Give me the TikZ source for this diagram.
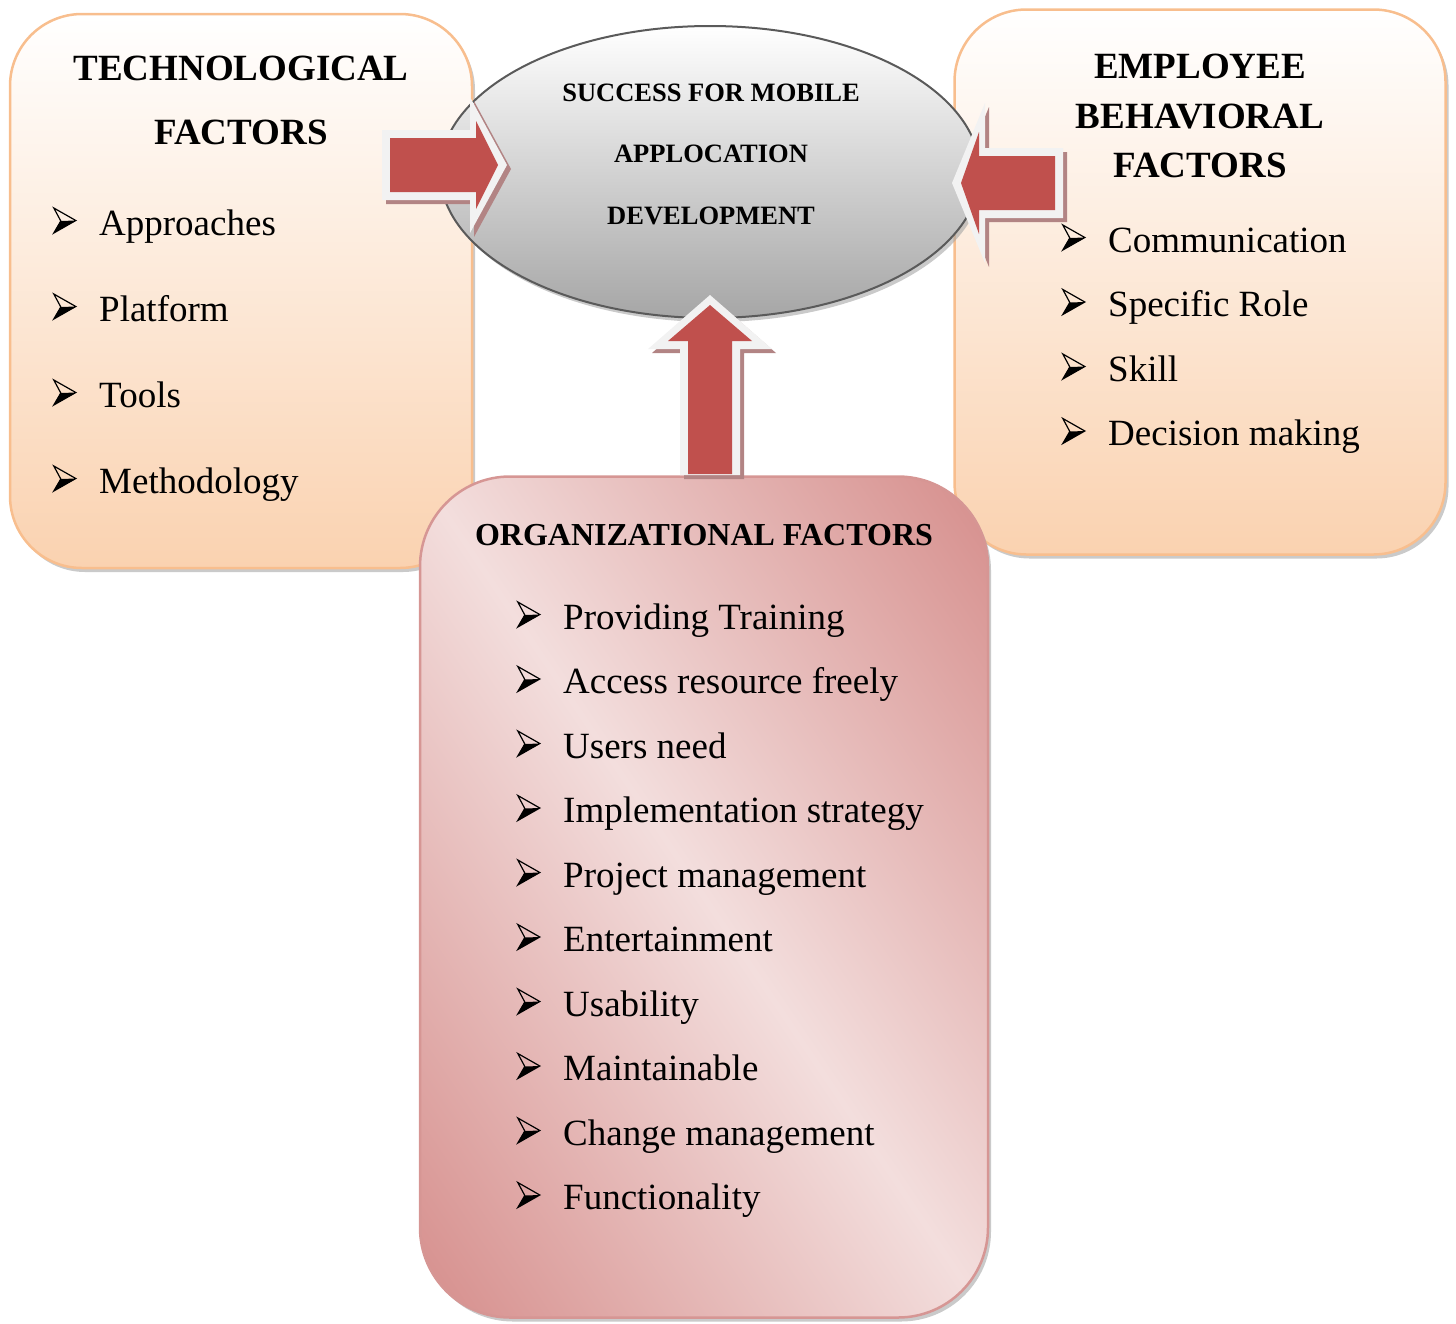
\documentclass[tikz,border=0pt]{standalone}
\usepackage{fontspec}
\setmainfont{Liberation Serif}
\usetikzlibrary{shapes.geometric,shadows}

\definecolor{peach}{RGB}{250,210,176}
\definecolor{peachline}{RGB}{248,190,142}
\definecolor{orglight}{RGB}{243,222,221}
\definecolor{orgdark}{RGB}{216,148,146}
\definecolor{orgline}{RGB}{214,150,148}
\definecolor{arrowred}{RGB}{192,80,77}
\definecolor{arrowrim}{RGB}{242,242,242}
\definecolor{arrowshade}{RGB}{178,132,132}
\definecolor{ovalline}{RGB}{90,90,90}

% diagonal band for the organizational box
\pgfdeclarehorizontalshading{orgband}{100bp}{color(0bp)=(orgdark); color(18bp)=(orgdark); color(50bp)=(orglight); color(82bp)=(orgdark); color(100bp)=(orgdark)}

% 3d arrowhead bullet
\newcommand{\itembullet}{\makebox[46pt][l]{\tikz[baseline=0pt, line join=miter]{
  \fill (7pt,14pt) -- (22pt,14.5pt) -- (0pt,2pt) -- cycle;
  \draw[line width=1.2pt] (0pt,27pt) -- (22pt,14.5pt) -- (0pt,2pt) -- (7pt,14pt) -- cycle;}}}

% block arrow: shadow, light rim, red body
\newcommand{\blockarrow}[2]{%
  \fill[arrowshade, shift={(4pt,-4pt)}] #1 -- cycle;
  \fill[arrowrim] #1 -- cycle;
  \fill[arrowred] #2 -- cycle;}

\tikzset{
  factorbox/.style={rectangle, rounded corners=72pt, draw=peachline, line width=2.5pt,
    top color=white, bottom color=peach,
    drop shadow={shadow xshift=3pt, shadow yshift=-4pt, fill=black!35, opacity=.6}},
  orgbox/.style={rectangle, rounded corners=90pt, draw=orgline, line width=2.5pt,
    shading=orgband, shading angle=34,
    drop shadow={shadow xshift=3pt, shadow yshift=-4pt, fill=black!35, opacity=.6}},
  goaloval/.style={ellipse, draw=ovalline, line width=2pt, top color=white, bottom color=gray!70,
    drop shadow={shadow xshift=3pt, shadow yshift=-4pt, fill=black!35, opacity=.6}},
  boxtitle/.style={anchor=base, inner sep=0pt, font=\bfseries\fontsize{37}{44}\selectfont},
  goalline/.style={anchor=base, inner sep=0pt, font=\bfseries\fontsize{26.5}{32}\selectfont},
  listitem/.style={anchor=base west, inner sep=0pt, font=\fontsize{37}{44}\selectfont},
}

\begin{document}
\begin{tikzpicture}[x=1pt,y=-1pt]
\useasboundingbox (0,0) rectangle (1456,1323);

% upper boxes
\node[factorbox, minimum width=462pt, minimum height=554pt] (techbox) at (241,291) {};
\node[factorbox, minimum width=491pt, minimum height=545pt] (empbox) at (1200,282) {};

% goal in the middle
\node[goaloval, minimum width=540pt, minimum height=292pt] (goal) at (710,172) {};
\foreach \txt/\y [count=\i] in {SUCCESS FOR MOBILE/101,APPLOCATION/162,DEVELOPMENT/224}
  \node[goalline] (goal\i) at (711,\y) {\txt};

% side arrows
\blockarrow{(382,130) -- (470,130) -- (470,97) -- (507,165) -- (470,233) -- (470,200) -- (382,200)}
           {(390,138) -- (476,138) -- (476,121) -- (498,165) -- (476,209) -- (476,192) -- (390,192)}
\blockarrow{(1063,148) -- (985,148) -- (985,103) -- (952,183) -- (985,263) -- (985,218) -- (1063,218)}
           {(1055,156) -- (979,156) -- (979,132) -- (961,183) -- (979,234) -- (979,210) -- (1055,210)}

% technological factors
\node[boxtitle] (tech0) at (241,80) {TECHNOLOGICAL};
\node[boxtitle] (tech00) at (241,144) {FACTORS};
\foreach \txt [count=\i] in {Approaches,Platform,Tools,Methodology}
  \node[listitem] (tech\i) at (53,149+86*\i) {\itembullet\txt};

% employee behavioral factors
\foreach \txt/\y [count=\i] in {EMPLOYEE/78,BEHAVIORAL/128,FACTORS/177}
  \node[boxtitle] (empt\i) at (1200,\y) {\txt};
\foreach \txt [count=\i] in {Communication,Specific Role,Skill,Decision making}
  \node[listitem] (emp\i) at (1062,187.5+64.5*\i) {\itembullet\txt};

% organizational factors
\node[orgbox, minimum width=568pt, minimum height=841pt] (orgbox) at (704,897) {};
\node[boxtitle, font=\bfseries\fontsize{32}{38}\selectfont] (orgtitle) at (704,545) {ORGANIZATIONAL FACTORS};
\foreach \txt [count=\i] in {Providing Training,Access resource freely,Users need,
    Implementation strategy,Project management,Entertainment,Usability,
    Maintainable,Change management,Functionality}
  \node[listitem] (org\i) at (517,564.5+64.5*\i) {\itembullet\txt};

% arrow up into the goal
\blockarrow{(680,475) -- (680,349) -- (648,349) -- (710,295) -- (772,349) -- (740,349) -- (740,475)}
           {(688,474) -- (688,341) -- (668,341) -- (710,305) -- (752,341) -- (732,341) -- (732,474)}
\end{tikzpicture}
\end{document}
